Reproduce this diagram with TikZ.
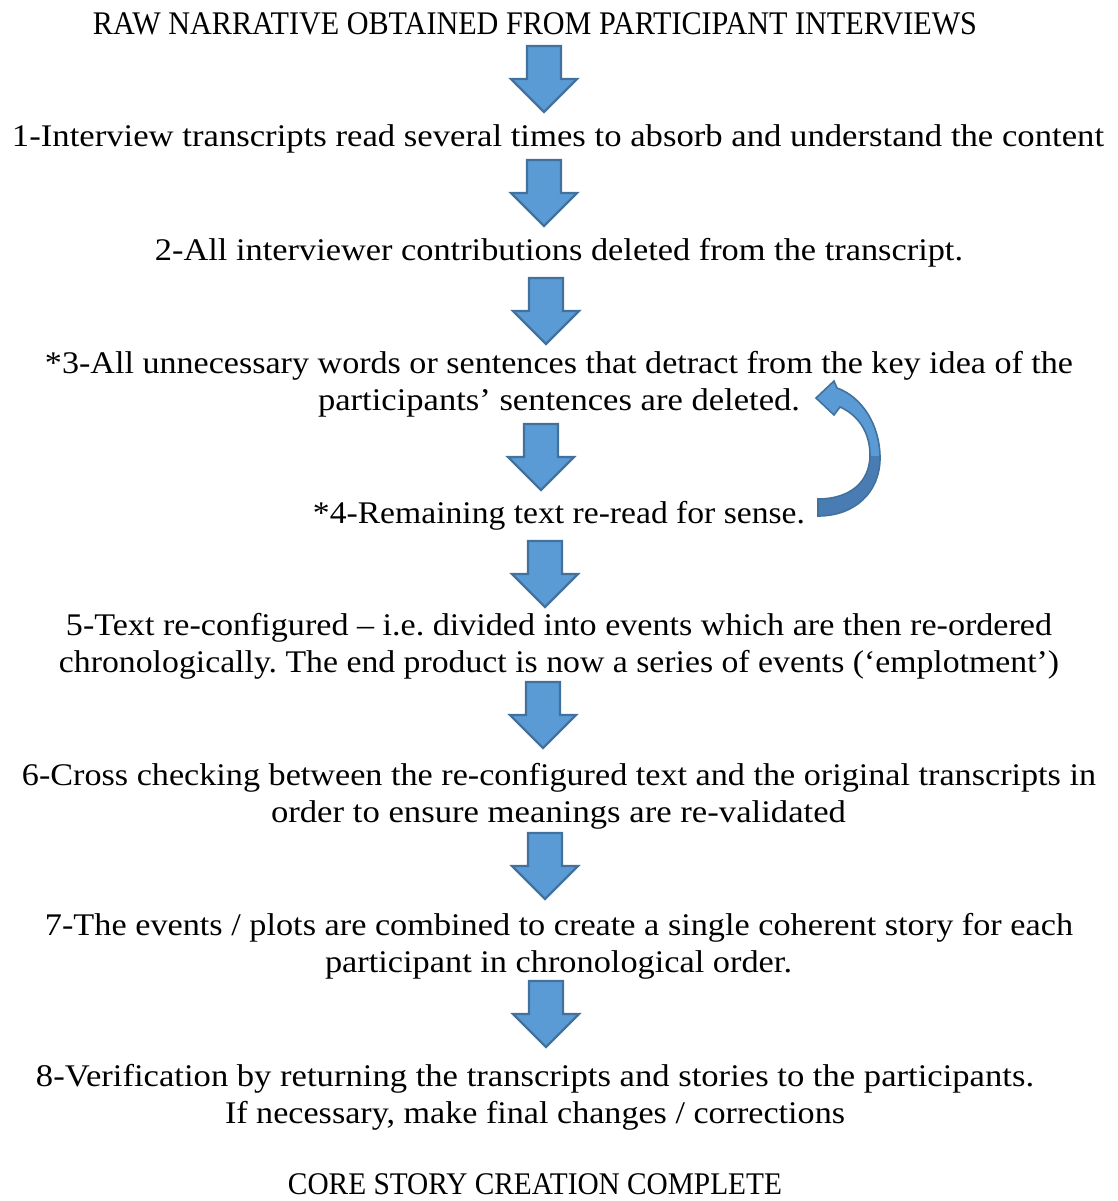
\documentclass[tikz,border=0pt]{standalone}
\usepackage{fontspec}
\usepackage{graphicx}
\setmainfont{Liberation Serif}
\frenchspacing
\newcommand\fitw[2]{\resizebox{#1pt}{\height}{#2}}
\newcommand\downarr[2]{%
  \filldraw[blockarrow] (#1-17,#2) -- (#1+17,#2) -- (#1+17,#2+33) -- (#1+33,#2+33)
    -- (#1,#2+66) -- (#1-33,#2+33) -- (#1-17,#2+33) -- cycle;}
\definecolor{afill}{HTML}{5B9BD5}
\definecolor{aline}{HTML}{41719C}
\definecolor{adark}{HTML}{4A7CB4}
\tikzset{
  txt/.style={anchor=base, inner sep=0pt, font=\fontsize{31.5}{37.5}\selectfont},
  blockarrow/.style={fill=afill, draw=aline, line width=2.2pt, line join=miter},
}
\begin{document}
\begin{tikzpicture}[x=1pt,y=-1pt]
\useasboundingbox[fill=white] (0,0) rectangle (1117,1201);

\node[txt] (title) at (535,35) {\fitw{884}{\fontsize{33}{37.5}\selectfont RAW NARRATIVE OBTAINED FROM PARTICIPANT INTERVIEWS}};
\downarr{544}{46}
\node[txt] (s1) at (558,147) {\fitw{1092}{1-Interview transcripts read several times to absorb and understand the content}};
\downarr{544}{160}
\node[txt] (s2) at (559,260) {\fitw{808}{2-All interviewer contributions deleted from the transcript.}};
\downarr{546}{278}
\node[txt] (s3a) at (559,373) {\fitw{1028}{*3-All unnecessary words or sentences that detract from the key idea of the}};
\node[txt] (s3b) at (559,410.5) {\fitw{482}{participants’ sentences are deleted.}};
\downarr{541}{424}
\node[txt] (s4) at (559,523) {\fitw{492}{*4-Remaining text re-read for sense.}};
\downarr{545}{541}
\node[txt] (s5a) at (559,635) {\fitw{986}{5-Text re-configured – i.e. divided into events which are then re-ordered}};
\node[txt] (s5b) at (559,672.5) {\fitw{1000}{chronologically. The end product is now a series of events (‘emplotment’)}};
\downarr{543}{682}
\node[txt] (s6a) at (559,785) {\fitw{1074}{6-Cross checking between the re-configured text and the original transcripts in}};
\node[txt] (s6b) at (558.5,822.5) {\fitw{575}{order to ensure meanings are re-validated}};
\downarr{545}{833}
\node[txt] (s7a) at (559,935) {\fitw{1028}{7-The events / plots are combined to create a single coherent story for each}};
\node[txt] (s7b) at (558.5,972.5) {\fitw{467}{participant in chronological order.}};
\downarr{546}{981}
\node[txt] (s8a) at (535,1086) {\fitw{998}{8-Verification by returning the transcripts and stories to the participants.}};
\node[txt] (s8b) at (535,1123.5) {\fitw{620}{If necessary, make final changes / corrections}};
\node[txt] (final) at (535,1194) {\fitw{494}{CORE STORY CREATION COMPLETE}};

% curved loop arrow from step 4 back to step 3
\def\loopshape{(816,398) -- (834,381) -- (837,388)
  .. controls (862,397) and (880,425) .. (880,458)
  .. controls (880,492) and (855,516) .. (818,516)
  -- (818,499)
  .. controls (850,499) and (870,482) .. (870,455)
  .. controls (870,432) and (858,415) .. (840,407)
  -- (834,415) -- cycle}
\fill[afill] \loopshape;
\begin{scope}
  \clip (800,456) rectangle (900,530);
  \fill[adark] \loopshape;
\end{scope}
\draw[aline, line width=1.6pt, line join=miter] \loopshape;
\end{tikzpicture}
\end{document}
